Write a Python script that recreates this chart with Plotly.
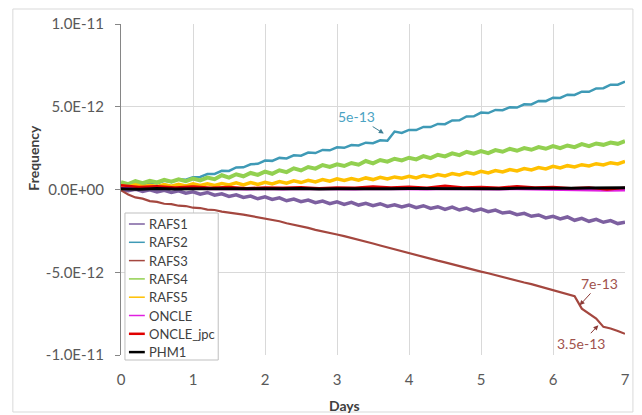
import plotly.graph_objects as go

SCALE = 1e-12  # values below are in units of 1e-12

DAYS = [0.0, 0.1, 0.2, 0.3, 0.4, 0.5, 0.6, 0.7, 0.8, 0.9,
        1.0, 1.1, 1.2, 1.3, 1.4, 1.5, 1.6, 1.7, 1.8, 1.9,
        2.0, 2.1, 2.2, 2.3, 2.4, 2.5, 2.6, 2.7, 2.8, 2.9,
        3.0, 3.1, 3.2, 3.3, 3.4, 3.5, 3.6, 3.7, 3.8, 3.9,
        4.0, 4.1, 4.2, 4.3, 4.4, 4.5, 4.6, 4.7, 4.8, 4.9,
        5.0, 5.1, 5.2, 5.3, 5.4, 5.5, 5.6, 5.7, 5.8, 5.9,
        6.0, 6.1, 6.2, 6.3, 6.4, 6.5, 6.6, 6.7, 6.8, 6.9,
        7.0]

DAYS_COARSE = [0.0, 0.25, 0.5, 0.75, 1.0, 1.25, 1.5, 1.75, 2.0, 2.25,
               2.5, 2.75, 3.0, 3.25, 3.5, 3.75, 4.0, 4.25, 4.5, 4.75,
               5.0, 5.25, 5.5, 5.75, 6.0, 6.25, 6.5, 6.75, 7.0]

RAFS1 = [0.00, -0.08, 0.02, -0.12, -0.02, -0.15, -0.05, -0.18, -0.08, -0.22,
         -0.14, -0.28, -0.18, -0.34, -0.26, -0.42, -0.32, -0.48, -0.40, -0.56,
         -0.44, -0.60, -0.50, -0.68, -0.58, -0.74, -0.64, -0.80, -0.70, -0.86,
         -0.74, -0.90, -0.78, -0.94, -0.84, -0.98, -0.86, -1.02, -0.92, -1.06,
         -0.94, -1.10, -0.98, -1.14, -1.04, -1.20, -1.06, -1.24, -1.12, -1.30,
         -1.18, -1.34, -1.24, -1.42, -1.36, -1.52, -1.44, -1.62, -1.54, -1.72,
         -1.62, -1.78, -1.66, -1.86, -1.74, -1.92, -1.80, -1.98, -1.88, -2.06,
         -1.98]

RAFS2 = [0.32, 0.25, 0.36, 0.31, 0.41, 0.37, 0.52, 0.45, 0.62, 0.59,
         0.74, 0.76, 0.93, 0.94, 1.13, 1.12, 1.33, 1.34, 1.52, 1.55,
         1.75, 1.73, 1.91, 1.88, 2.07, 2.04, 2.23, 2.20, 2.39, 2.37,
         2.55, 2.52, 2.69, 2.66, 2.83, 2.80, 2.97, 2.95, 3.50, 3.42,
         3.60, 3.59, 3.78, 3.77, 3.96, 3.95, 4.17, 4.18, 4.41, 4.42,
         4.65, 4.62, 4.81, 4.79, 4.97, 4.95, 5.15, 5.14, 5.35, 5.34,
         5.55, 5.53, 5.73, 5.71, 5.91, 5.90, 6.11, 6.12, 6.33, 6.33,
         6.52]

RAFS3 = [-0.05, -0.30, -0.48, -0.55, -0.70, -0.75, -0.86, -0.88, -0.98, -1.00,
         -1.10, -1.12, -1.22, -1.24, -1.34, -1.38, -1.46, -1.52, -1.60, -1.66,
         -1.74, -1.84, -1.92, -2.04, -2.12, -2.24, -2.32, -2.44, -2.52, -2.64,
         -2.72, -2.82, -2.92, -3.04, -3.14, -3.26, -3.38, -3.50, -3.60, -3.74,
         -3.86, -3.96, -4.08, -4.18, -4.30, -4.40, -4.52, -4.62, -4.74, -4.84,
         -4.96, -5.06, -5.18, -5.28, -5.40, -5.50, -5.62, -5.72, -5.84, -5.94,
         -6.06, -6.16, -6.28, -6.44, -7.20, -7.50, -7.80, -8.30, -8.40, -8.55,
         -8.72]

RAFS4 = [0.45, 0.32, 0.50, 0.38, 0.52, 0.43, 0.58, 0.47, 0.62, 0.50,
         0.66, 0.55, 0.72, 0.62, 0.86, 0.72, 0.92, 0.80, 1.00, 0.88,
         1.08, 0.95, 1.16, 1.05, 1.28, 1.15, 1.36, 1.26, 1.48, 1.36,
         1.52, 1.42, 1.60, 1.50, 1.72, 1.58, 1.78, 1.68, 1.86, 1.76,
         1.92, 1.82, 2.02, 1.90, 2.10, 2.00, 2.18, 2.08, 2.28, 2.16,
         2.32, 2.20, 2.38, 2.28, 2.46, 2.34, 2.50, 2.40, 2.56, 2.46,
         2.62, 2.50, 2.66, 2.56, 2.74, 2.62, 2.78, 2.70, 2.84, 2.76,
         2.92]

RAFS5 = [0.25, 0.15, 0.28, 0.17, 0.26, 0.19, 0.30, 0.20, 0.32, 0.22,
         0.34, 0.24, 0.35, 0.25, 0.36, 0.27, 0.40, 0.28, 0.42, 0.31,
         0.44, 0.34, 0.48, 0.38, 0.52, 0.42, 0.56, 0.46, 0.60, 0.50,
         0.64, 0.54, 0.66, 0.56, 0.70, 0.60, 0.74, 0.64, 0.76, 0.68,
         0.80, 0.70, 0.84, 0.76, 0.90, 0.82, 0.96, 0.88, 1.02, 0.94,
         1.10, 1.00, 1.14, 1.06, 1.20, 1.12, 1.26, 1.18, 1.32, 1.24,
         1.40, 1.30, 1.44, 1.36, 1.50, 1.42, 1.56, 1.48, 1.62, 1.54,
         1.70]

ONCLE = [0.10, 0.05, 0.08, 0.04, 0.06, 0.03, 0.05, 0.02, 0.04, 0.02,
         0.05, 0.03, 0.04, 0.02, 0.05, 0.03, 0.04, 0.02, 0.05, 0.03,
         0.04, 0.02, 0.03, 0.01, 0.02, -0.02, -0.05, -0.06, -0.04]

ONCLE_JPC = [0.25, 0.15, 0.20, 0.12, 0.18, 0.10, 0.15, 0.08, 0.12, 0.10,
             0.14, 0.08, 0.12, 0.10, 0.18, 0.12, 0.16, 0.10, 0.22, 0.12,
             0.15, 0.10, 0.20, 0.12, 0.15, 0.08, 0.12, 0.00, 0.10]

PHM1 = [0.05, 0.02, 0.06, 0.03, 0.05, 0.04, 0.06, 0.03, 0.05, 0.04,
        0.06, 0.03, 0.05, 0.04, 0.06, 0.04, 0.06, 0.05, 0.07, 0.05,
        0.06, 0.05, 0.07, 0.06, 0.08, 0.07, 0.09, 0.08, 0.10]

Y_TICKS = [-1e-11, -5e-12, 0.0, 5e-12, 1e-11]
Y_TICK_TEXT = ["-1.0E-11", "-5.0E-12", "0.0E+00", "5.0E-12", "1.0E-11"]
X_TICKS = [0, 1, 2, 3, 4, 5, 6, 7]

# name, x, y, color, plot line width, legend line width
series = [
    ("RAFS1", DAYS, RAFS1, "#7D60A0", 3.5, 1.5),
    ("RAFS2", DAYS, RAFS2, "#3F9AB6", 2.5, 1.5),
    ("RAFS3", DAYS, RAFS3, "#A4473F", 2.2, 1.5),
    ("RAFS4", DAYS, RAFS4, "#92D050", 4.0, 1.5),
    ("RAFS5", DAYS, RAFS5, "#FFC000", 3.5, 1.5),
    ("ONCLE", DAYS_COARSE, ONCLE, "#E020E0", 2.5, 1.5),
    ("ONCLE_jpc", DAYS_COARSE, ONCLE_JPC, "#E00000", 2.5, 2.5),
    ("PHM1", DAYS_COARSE, PHM1, "#000000", 3.0, 2.5),
]

FONT = "Lato, 'Open Sans', sans-serif"

# plot-area pixel geometry (for paper-coordinate conversion of decorations)
L, R, T, B = 121, 13, 24, 60
W, H = 642, 415
PW, PH = W - L - R, H - T - B


def px(xp):
    return (xp - L) / PW


def py(yp):
    return (H - B - yp) / PH


fig = go.Figure()
for name, xs, ys, color, w, _ in series:
    fig.add_trace(go.Scatter(
        x=xs, y=[v * SCALE for v in ys], mode="lines", name=name,
        line=dict(color=color, width=w), showlegend=False,
    ))

shapes = [
    dict(type="rect", xref="paper", yref="paper",
         x0=px(12), x1=px(637), y0=py(412), y1=py(9),
         line=dict(color="#D9D9D9", width=1), fillcolor="rgba(0,0,0,0)",
         layer="below"),
    # legend box
    dict(type="rect", xref="paper", yref="paper",
         x0=px(125), x1=px(219), y0=py(360), y1=py(213),
         line=dict(color="#BFBFBF", width=1), fillcolor="white",
         layer="above"),
]
annotations = []
for i, (name, _, _, color, _, lw) in enumerate(series):
    yc = 224 + 18.3 * i
    shapes.append(dict(type="line", xref="paper", yref="paper",
                       x0=px(129), x1=px(145), y0=py(yc), y1=py(yc),
                       line=dict(color=color, width=lw), layer="above"))
    annotations.append(dict(x=px(147), y=py(yc), xref="paper", yref="paper",
                            text=name, showarrow=False, xanchor="left",
                            yanchor="middle",
                            font=dict(size=13, color="#404040")))

annotations += [
    dict(x=3.65, y=3.38e-12, xref="x", yref="y", text="5e-13",
         showarrow=True, arrowhead=2, arrowsize=1, arrowwidth=1,
         arrowcolor="#3F7F95", ax=-27, ay=-17,
         font=dict(size=14, color="#4BA3C3")),
    dict(x=6.37, y=-7.0e-12, xref="x", yref="y", text="7e-13",
         showarrow=True, arrowhead=2, arrowsize=1, arrowwidth=1,
         arrowcolor="#8B3A36", ax=20, ay=-22,
         font=dict(size=14, color="#A0524D")),
    dict(x=6.63, y=-8.2e-12, xref="x", yref="y", text="3.5e-13",
         showarrow=True, arrowhead=2, arrowsize=1, arrowwidth=1,
         arrowcolor="#8B3A36", ax=-17, ay=18,
         font=dict(size=14, color="#A0524D")),
    dict(x=px(32), y=py(158), xref="paper", yref="paper",
         text="<b>Frequency</b>", showarrow=False, textangle=-90,
         xanchor="center", yanchor="middle",
         font=dict(size=14, color="#404040")),
    dict(x=px(346), y=py(405), xref="paper", yref="paper", text="<b>Days</b>",
         showarrow=False, xanchor="center", yanchor="middle",
         font=dict(size=14, color="#404040")),
]

fig.update_layout(
    width=W, height=H,
    margin=dict(l=L, r=R, t=T, b=B),
    paper_bgcolor="white", plot_bgcolor="white",
    font=dict(family=FONT, size=13, color="#404040"),
    showlegend=False,
    xaxis=dict(
        range=[0, 7], tickvals=X_TICKS, ticks="", showgrid=True,
        gridcolor="#D9D9D9", gridwidth=1, zeroline=False, showline=False,
        tickfont=dict(size=15, color="#595959"), ticklabelstandoff=14,
    ),
    yaxis=dict(
        range=[-1e-11, 1e-11], tickvals=Y_TICKS, ticktext=Y_TICK_TEXT,
        ticks="outside", ticklen=5, tickcolor="#868686",
        showgrid=True, gridcolor="#D9D9D9", gridwidth=1, zeroline=False,
        showline=True, linecolor="#868686", linewidth=1,
        tickfont=dict(size=15, color="#595959"), ticklabelstandoff=8,
    ),
    annotations=annotations,
    shapes=shapes,
)

fig.write_html("out.html")
